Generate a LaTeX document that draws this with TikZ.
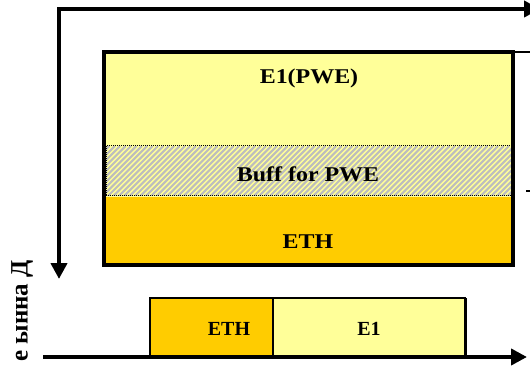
\documentclass[tikz,border=0pt]{standalone}
\usepackage{fontspec}
\setmainfont{Liberation Serif}
\usetikzlibrary{arrows.meta}
\definecolor{paleyel}{HTML}{FFFF99}
\definecolor{amber}{HTML}{FFCC00}
\definecolor{stripe}{HTML}{BDBDBD}
\tikzset{
  axis/.style={line width=4pt, -{Triangle[length=16pt,width=16pt]}},
  label/.style={font=\bfseries\fontsize{20}{22}\selectfont, inner sep=0pt},
  wide/.style={label, font=\bfseries\fontsize{21}{23}\selectfont, xscale=1.14},
}
\begin{document}
\begin{tikzpicture}[x=1pt,y=-1pt]
\useasboundingbox (0,0) rectangle (530,366);

% axes
\coordinate (corner) at (59,9);
\coordinate (hend) at (540,9);
\coordinate (vend) at (59,279);
\draw[line width=4pt, {Triangle[length=16pt,width=16pt]}-{Triangle[length=16pt,width=16pt]}, line join=miter]
  (hend) -- (corner) -- (vend);
\coordinate (bstart) at (43,357);
\coordinate (bend) at (527,357);
\draw[axis] (bstart) -- (bend);

% frame layers
\fill[paleyel] (104,52) rectangle (513,146);
\fill[paleyel] (104,146) rectangle (513,197);
\begin{scope}
  \clip (106,146) rectangle (511,196);
  \foreach \k in {0,...,85}
    \draw[stripe, line width=2.1pt] ({50+5.4*\k},200) -- ({50+5.4*\k+54},146);
\end{scope}
\draw[densely dotted, line width=1pt] (106,146) rectangle (511,196);
\fill[amber] (104,197) rectangle (513,265);
\draw[line width=4pt] (104,52) rectangle (513,265);
\coordinate (side) at (534,52);
\draw[line width=1.6pt] (515,52) -- (side);
\draw[line width=1.2pt] (526,191) -- (531,191);

\node[wide] (pwe) at (309,78) {E1(PWE)};
\node[wide] (buff) at (308,174) {Buff for PWE};
\node[wide] (eth) at (308,242) {ETH};

% bottom frame
\draw[line width=2pt, fill=amber] (150,298) rectangle (273,356);
\draw[line width=2pt, fill=paleyel] (273,298) rectangle (465,356);
\draw[line width=1.5pt] (466,298) -- (466,356);
\node[label] (eth2) at (229,329) {ETH};
\node[label] (e1) at (369,329) {E1};

% vertical caption
\node[font=\bfseries\fontsize{25}{27}\selectfont, rotate=90, inner sep=0pt] (cap) at (22,311) {е ынна Д};
\end{tikzpicture}
\end{document}
